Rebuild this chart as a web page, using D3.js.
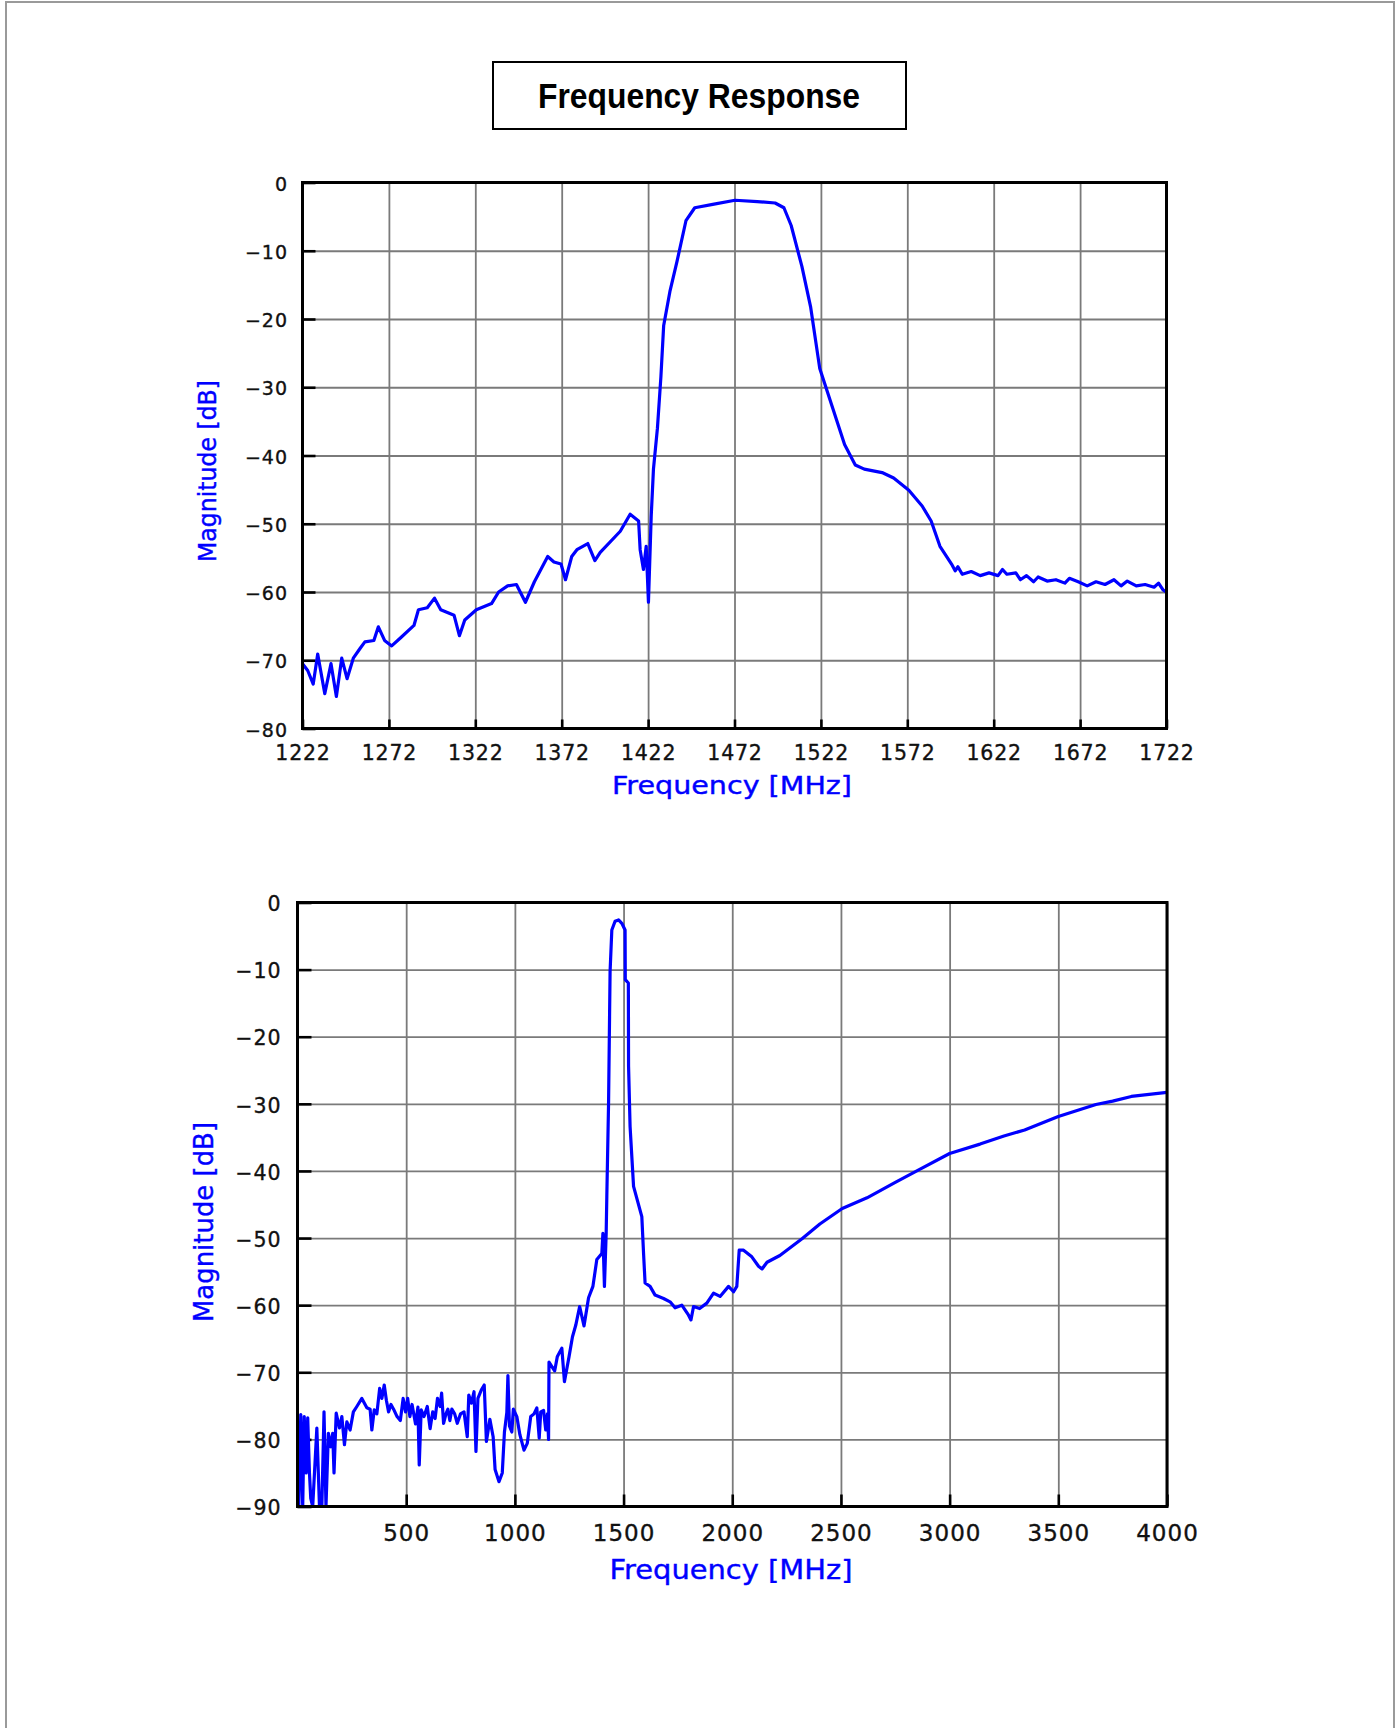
<!DOCTYPE html>
<html>
<head>
<meta charset="utf-8">
<script src="https://cdn.jsdelivr.net/npm/d3@7"></script>
<style>
  html, body { margin: 0; padding: 0; background: #fff; }
  svg { display: block; }
</style>
</head>
<body>
<div id="chart"></div>
<script>
// narrow band sweep, 1222..1722 MHz
const topFreq = [
  1222, 1225, 1228.2, 1230.8, 1234.9, 1238.5, 1241.6, 1244.7, 1247.8, 1251.4,
  1255.5, 1258.1, 1263.3, 1265.9, 1269.5, 1273.6, 1278.8, 1286.5, 1289.1, 1294.2,
  1298.4, 1302.0, 1309.7, 1312.8, 1315.9, 1322.6, 1331.4, 1335.5, 1340.7, 1345.8,
  1351.0, 1356.2, 1363.9, 1367.5, 1371.6, 1374.2, 1377.8, 1380.8, 1387.1, 1391.2,
  1394.3, 1405.9, 1411.6, 1416.5, 1417.4, 1419.3, 1420.9, 1422.2, 1423.8, 1425.1,
  1427.4, 1429.4, 1431.0, 1434.6, 1438.7, 1443.9, 1449.0, 1459.4, 1472.3, 1485.2,
  1495.5, 1500.6, 1504.8, 1511.0, 1516.1, 1521.3, 1529.0, 1535.7, 1541.9, 1547.1,
  1557.4, 1564.1, 1572.9, 1580.6, 1585.8, 1590.9, 1597.6, 1599.7, 1601.3, 1603.8,
  1609.0, 1614.2, 1619.3, 1624.5, 1627.1, 1629.6, 1634.8, 1637.4, 1641.0, 1645.1,
  1647.7, 1652.9, 1658.0, 1663.2, 1665.8, 1670.9, 1676.1, 1681.2, 1686.4, 1691.6,
  1695.7, 1699.3, 1704.5, 1709.6, 1714.8, 1717.4, 1720.0, 1722
];
const topMag = [
  -70.5, -71.5, -73.5, -69.1, -74.9, -70.5, -75.3, -69.7, -72.7, -69.7,
  -68.2, -67.3, -67.1, -65.1, -67.1, -67.9, -66.7, -64.9, -62.6, -62.3,
  -60.9, -62.6, -63.4, -66.4, -64.1, -62.6, -61.7, -60.0, -59.1, -58.9,
  -61.5, -58.5, -54.8, -55.6, -55.9, -58.2, -54.8, -53.8, -52.9, -55.4,
  -54.2, -51.1, -48.6, -49.6, -53.8, -56.7, -53.3, -61.5, -48.9, -42.0,
  -36.0, -28.5, -21.0, -16.0, -11.6, -5.6, -3.7, -3.2, -2.6, -2.8,
  -3.0, -3.7, -6.3, -12.3, -18.3, -27.2, -33.2, -38.4, -41.4, -42.0,
  -42.5, -43.3, -45.1, -47.4, -49.6, -53.3, -55.9, -56.9, -56.3, -57.4,
  -57.0, -57.6, -57.2, -57.6, -56.7, -57.4, -57.2, -58.2, -57.6, -58.5,
  -57.8, -58.4, -58.2, -58.7, -58.0, -58.5, -59.1, -58.5, -58.9, -58.2,
  -59.1, -58.4, -59.1, -58.9, -59.3, -58.7, -59.7, -60.0
];

// wide band sweep, 0..4000 MHz
const bottomFreq = [
  0, 6, 15, 24, 31, 40, 47, 55, 61, 70,
  89, 101, 112, 122, 131, 142, 153, 162, 168, 178,
  193, 204, 216, 227, 242, 257, 273, 296, 319, 334,
  342, 353, 365, 378, 388, 399, 409, 419, 430, 442,
  458, 473, 486, 497, 507, 517, 527, 543, 554, 560,
  569, 582, 597, 610, 622, 633, 644, 656, 663, 672,
  683, 692, 701, 710, 723, 735, 750, 766, 781, 788,
  800, 812, 821, 830, 846, 859, 869, 885, 900, 909,
  927, 942, 952, 963, 968, 975, 986, 993, 1009, 1023,
  1042, 1057, 1073, 1088, 1101, 1112, 1119, 1132, 1142, 1150,
  1155, 1157, 1183, 1195, 1216, 1228, 1249, 1265, 1280, 1298,
  1318, 1339, 1359, 1377, 1400, 1405, 1412, 1420, 1423, 1431,
  1438, 1446, 1461, 1477, 1492, 1507, 1508, 1522, 1523, 1530,
  1546, 1584, 1592, 1599, 1622, 1645, 1684, 1714, 1737, 1768,
  1799, 1810, 1822, 1850, 1883, 1914, 1944, 1983, 2006, 2021,
  2032, 2052, 2090, 2121, 2137, 2160, 2219, 2321, 2403, 2506,
  2620, 2750, 2860, 3000, 3140, 3250, 3345, 3500, 3673, 3750,
  3836, 4000
];
const bottomMag = [
  -82.8, -90, -76.3, -90, -76.6, -85, -76.8, -85, -88.8, -90,
  -78.3, -90, -90, -75.9, -90, -79.1, -81.1, -79.1, -85, -76.1,
  -78.3, -76.6, -80.8, -77.4, -78.6, -75.9, -75.1, -73.9, -75.3, -75.5,
  -78.6, -75.6, -76.2, -72.4, -73.9, -71.9, -74.2, -75.9, -74.8, -75.5,
  -76.6, -77.2, -73.9, -75.9, -73.9, -76.6, -74.8, -77.7, -75.2, -83.8,
  -75.6, -76.6, -75.1, -78.4, -75.9, -76.9, -73.9, -75.1, -73.1, -77.6,
  -76.2, -75.5, -77.2, -75.5, -76.2, -77.6, -76.2, -75.9, -79.6, -73.4,
  -74.6, -72.9, -81.8, -73.9, -72.6, -71.9, -80.3, -77.0, -79.6, -84.5,
  -86.3, -85.0, -78.9, -76.0, -70.5, -78.0, -78.9, -75.5, -76.6, -79.3,
  -81.6, -80.6, -76.6, -76.2, -75.3, -79.8, -75.9, -75.7, -78.6, -76.2,
  -80.0, -68.5, -69.8, -67.7, -66.4, -71.4, -67.7, -64.7, -63.0, -60.2,
  -63.1, -58.9, -57.2, -53.2, -52.3, -49.3, -57.2, -49.3, -43.8, -29.9,
  -10.3, -4.1, -2.8, -2.6, -3.1, -4.1, -11.5, -12.0, -24.4, -33.4,
  -42.3, -46.8, -52.3, -56.7, -57.2, -58.5, -59.0, -59.5, -60.4, -60.0,
  -61.5, -62.2, -60.2, -60.5, -59.7, -58.2, -58.7, -57.2, -58.0, -57.2,
  -51.8, -51.8, -52.8, -54.2, -54.6, -53.6, -52.6, -50.1, -47.9, -45.6,
  -44.0, -41.7, -39.8, -37.4, -36.0, -34.8, -33.9, -31.9, -30.1, -29.6,
  -28.9, -28.3
];

const topXTicks = [1222, 1272, 1322, 1372, 1422, 1472, 1522, 1572, 1622, 1672, 1722];
const topYTicks = [0, -10, -20, -30, -40, -50, -60, -70, -80];
const bottomXTicks = [500, 1000, 1500, 2000, 2500, 3000, 3500, 4000];
const bottomYTicks = [0, -10, -20, -30, -40, -50, -60, -70, -80, -90];

const W = 1397, H = 1728;
const BLUE = '#0000ff';
const FONT = "'DejaVu Sans', Verdana, sans-serif";

const svg = d3.select('#chart').append('svg')
  .attr('width', W).attr('height', H)
  .attr('viewBox', `0 0 ${W} ${H}`);

// page frame, open at the bottom
svg.append('rect')
  .attr('x', 6).attr('y', 2).attr('width', 1388).attr('height', H + 40)
  .attr('fill', 'none').attr('stroke', '#9a9a9a').attr('stroke-width', 2);

// title box
svg.append('rect')
  .attr('x', 493).attr('y', 62).attr('width', 413).attr('height', 67)
  .attr('fill', '#fff').attr('stroke', '#000').attr('stroke-width', 2);
svg.append('text')
  .attr('x', 699).attr('y', 108)
  .attr('text-anchor', 'middle')
  .attr('font-family', "'Liberation Sans', Arial, sans-serif")
  .attr('font-weight', 700).attr('font-size', 35)
  .attr('textLength', 322).attr('lengthAdjust', 'spacingAndGlyphs')
  .text('Frequency Response');

function drawPanel(id, freq, mag, opt) {
  const { box, xDomain, yDomain, xTicks, yTicks } = opt;
  const x = d3.scaleLinear().domain(xDomain).range([box.left, box.right]);
  const y = d3.scaleLinear().domain(yDomain).range([box.bottom, box.top]);
  const h = box.bottom - box.top, w = box.right - box.left;
  const g = svg.append('g').attr('class', id);

  // grid + labels through the axes
  const gx = g.append('g')
    .attr('transform', `translate(0,${box.bottom})`)
    .call(d3.axisBottom(x).tickValues(xTicks).tickSize(-h)
      .tickPadding(opt.xPad).tickFormat(d3.format('d')));
  gx.select('.domain').remove();
  gx.selectAll('line').attr('stroke', '#7a7a7a').attr('stroke-width', 1.8);
  gx.selectAll('text')
    .attr('fill', '#111').attr('font-family', FONT)
    .attr('stroke', '#111').attr('stroke-width', 0.35)
    .attr('font-size', opt.xFont).attr('letter-spacing', opt.xSpace);

  const gy = g.append('g')
    .attr('transform', `translate(${box.left},0)`)
    .call(d3.axisLeft(y).tickValues(yTicks).tickSize(-w)
      .tickPadding(opt.yPad).tickFormat(d3.format('d')));
  gy.select('.domain').remove();
  gy.selectAll('line').attr('stroke', '#7a7a7a').attr('stroke-width', 1.8);
  gy.selectAll('text')
    .attr('fill', '#111').attr('font-family', FONT).attr('dy', '0.4em')
    .attr('stroke', '#111').attr('stroke-width', 0.35)
    .attr('font-size', opt.yFont).attr('letter-spacing', opt.ySpace);

  // short black ticks inside the frame
  const tx = g.append('g')
    .attr('transform', `translate(0,${box.bottom})`)
    .call(d3.axisBottom(x).tickValues(xTicks).tickSize(-opt.xTick).tickFormat(''));
  tx.select('.domain').remove();
  tx.selectAll('line').attr('stroke', '#000').attr('stroke-width', 2.6);

  const ty = g.append('g')
    .attr('transform', `translate(${box.left},0)`)
    .call(d3.axisLeft(y).tickValues(yTicks).tickSize(-opt.yTick).tickFormat(''));
  ty.select('.domain').remove();
  ty.selectAll('line').attr('stroke', '#000').attr('stroke-width', 2.6);

  // trace
  g.append('clipPath').attr('id', id + '-clip')
    .append('rect').attr('x', box.left).attr('y', box.top - 2)
    .attr('width', w).attr('height', h + 2);

  const pts = freq.map((f, i) => [f, mag[i]]);
  const line = d3.line()
    .x(d => x(d[0]))
    .y(d => y(Math.max(yDomain[0], d[1])));
  g.append('path')
    .datum(pts)
    .attr('clip-path', `url(#${id}-clip)`)
    .attr('d', line)
    .attr('fill', 'none').attr('stroke', BLUE)
    .attr('stroke-width', 3.2).attr('stroke-linejoin', 'round');

  // frame
  g.append('rect')
    .attr('x', box.left).attr('y', box.top).attr('width', w).attr('height', h)
    .attr('fill', 'none').attr('stroke', '#000').attr('stroke-width', 3);

  // axis titles
  g.append('text')
    .attr('x', opt.xTitle.x).attr('y', opt.xTitle.y)
    .attr('text-anchor', 'middle').attr('fill', BLUE)
    .attr('stroke', BLUE).attr('stroke-width', 0.4)
    .attr('font-family', FONT).attr('font-size', opt.xTitle.size)
    .attr('textLength', opt.xTitle.len).attr('lengthAdjust', 'spacingAndGlyphs')
    .text('Frequency [MHz]');

  g.append('text')
    .attr('transform', `translate(${opt.yTitle.x},${opt.yTitle.y}) rotate(-90)`)
    .attr('text-anchor', 'middle').attr('fill', BLUE)
    .attr('stroke', BLUE).attr('stroke-width', 0.4)
    .attr('font-family', FONT).attr('font-size', opt.yTitle.size)
    .attr('textLength', opt.yTitle.len).attr('lengthAdjust', 'spacingAndGlyphs')
    .text('Magnitude [dB]');
}

drawPanel('top', topFreq, topMag, {
  box: { left: 302.5, right: 1166.5, top: 182.5, bottom: 728.5 },
  xDomain: [1222, 1722], yDomain: [-80, 0],
  xTicks: topXTicks, yTicks: topYTicks,
  xPad: 17, xFont: 20.5, xSpace: 0.8, xTick: 9,
  yPad: 14.5, yFont: 19, ySpace: 1, yTick: 13,
  xTitle: { x: 732, y: 794, size: 24, len: 240 },
  yTitle: { x: 216, y: 471, size: 25, len: 182 }
});

drawPanel('bottom', bottomFreq, bottomMag, {
  box: { left: 297.5, right: 1167, top: 902.5, bottom: 1506.5 },
  xDomain: [0, 4000], yDomain: [-90, 0],
  xTicks: bottomXTicks, yTicks: bottomYTicks,
  xPad: 18, xFont: 23, xSpace: 1, xTick: 12,
  yPad: 16, yFont: 20.5, ySpace: 1, yTick: 14,
  xTitle: { x: 731, y: 1579, size: 27, len: 243 },
  yTitle: { x: 213, y: 1222, size: 27, len: 200 }
});
</script>
</body>
</html>
